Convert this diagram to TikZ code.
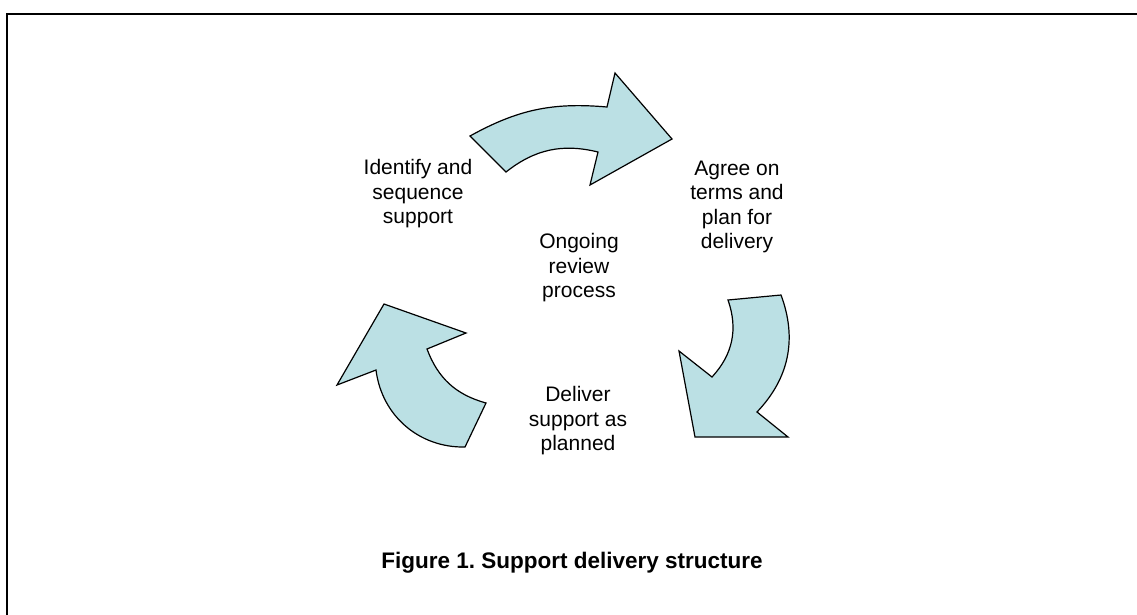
\documentclass[tikz,border=0pt]{standalone}
\usepackage{fontspec}
\setmainfont{Liberation Sans}
\definecolor{arrowblue}{RGB}{187,224,228}
\tikzset{
  phase/.style={align=center,font=\fontsize{21}{24.5}\selectfont},
  curved/.style={draw=black,fill=arrowblue,line width=1.2pt,line join=miter}
}
\frenchspacing
\begin{document}
\begin{tikzpicture}[x=1pt,y=-1pt]
\useasboundingbox (0,0) rectangle (1137,614);
\draw[line width=2pt] (7,620) -- (7,14) -- (1140,14);
% the three curved arrows
\draw[curved] (598,152) to[bend right=26] (506,172) -- (470,136) to[bend left=17] (607,107) -- (615,73) -- (672,139) -- (590,185) -- cycle;
\draw[curved] (712,377) to[bend right=31] (728,300) -- (781,295) to[bend left=32] (757,412) -- (788,437) -- (695,437) -- (679,351) -- cycle;
\draw[curved] (376,370) to[bend right=42] (465,447) -- (486,403) to[bend left=27] (427,349) -- (466,333) -- (384,304) -- (337,385) -- cycle;
% texts
\node[phase] (identify) at (418,194) {Identify and\\sequence\\support};
\node[phase] (agree) at (737,207) {Agree on\\terms and\\plan for\\delivery};
\node[phase] (review) at (579,268) {Ongoing\\review\\process};
\node[phase] (deliver) at (578,421) {Deliver\\support as\\planned};
\node[font=\bfseries\fontsize{22.5}{26}\selectfont] (caption) at (572,563) {Figure 1. Support delivery structure};
\end{tikzpicture}
\end{document}
